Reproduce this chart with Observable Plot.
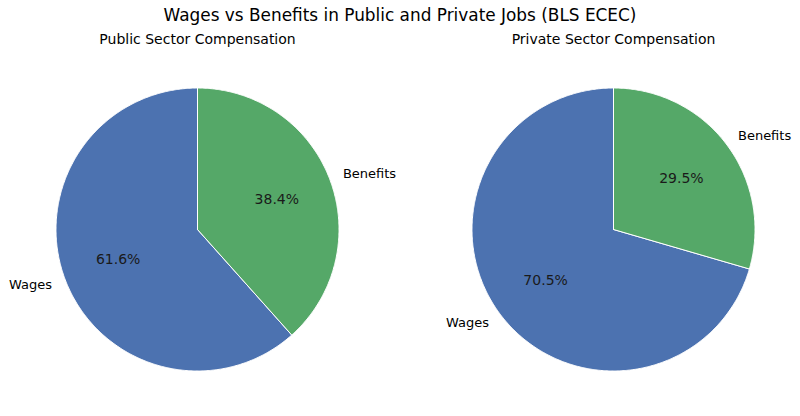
<!DOCTYPE html>
<html>
<head>
<meta charset="utf-8">
<script src="https://cdn.jsdelivr.net/npm/d3@7"></script>
<script src="https://cdn.jsdelivr.net/npm/@observablehq/plot@0.6"></script>
<style>
  html, body { margin: 0; padding: 0; background: white; }
  body { width: 800px; font-family: "DejaVu Sans", sans-serif; }
  #title { height: 30px; line-height: 30px; text-align: center; font-size: 16.9px; color: #000; }
</style>
</head>
<body>
<div id="title">Wages vs Benefits in Public and Private Jobs (BLS ECEC)</div>
<div id="chart"></div>
<script>
// ---- data ----
const sectors = ["Public Sector Compensation", "Private Sector Compensation"];
const components = ["Wages", "Benefits"];
const publicShares = [61.6, 38.4];
const privateShares = [70.5, 29.5];
const colors = ["#4c72b0", "#55a868"];

// ---- layout constants ----
const R = 141.5;          // pie radius in px
const svgH = 386;
const centerY = 199;      // pie centre in svg px
const facetW = 374;
const startAngle = 90;    // degrees, counter-clockwise like matplotlib

const shares = [publicShares, privateShares];
const points = [], labels = [], pcts = [];
sectors.forEach((sector, si) => {
  const vals = shares[si];
  const total = d3.sum(vals);
  let a0 = startAngle;
  vals.forEach((v, ci) => {
    const sweep = v / total * 360;
    const a1 = a0 + sweep;
    const id = sector + "|" + components[ci];
    points.push({sector, component: components[ci], id, x: 0, y: 0});
    const n = Math.max(2, Math.ceil(sweep * 2));
    for (let k = 0; k <= n; k++) {
      const t = (a0 + sweep * k / n) * Math.PI / 180;
      points.push({sector, component: components[ci], id, x: Math.cos(t), y: Math.sin(t)});
    }
    points.push({sector, component: components[ci], id, x: 0, y: 0});
    const mid = (a0 + sweep / 2) * Math.PI / 180;
    labels.push({sector, text: components[ci], x: 1.1 * Math.cos(mid), y: 1.1 * Math.sin(mid)});
    pcts.push({sector, text: (v / total * 100).toFixed(1) + "%", x: 0.6 * Math.cos(mid), y: 0.6 * Math.sin(mid)});
    a0 = a1;
  });
});

const half = facetW / 2 / R;
const chart = Plot.plot({
  width: 800,
  height: svgH,
  marginTop: 0, marginBottom: 0, marginLeft: 10, marginRight: 0,
  style: {fontFamily: "DejaVu Sans, sans-serif", background: "white", color: "black"},
  fx: {domain: sectors, paddingInner: 0.101, paddingOuter: 0, axis: null},
  x: {domain: [-half, half], axis: null},
  y: {domain: [-(svgH - centerY) / R, centerY / R], axis: null},
  color: {domain: components, range: colors},
  marks: [
    Plot.line(points, {fx: "sector", x: "x", y: "y", z: "id", fill: "component", stroke: "white", strokeWidth: 1, curve: "linear"}),
    Plot.text(labels.filter(d => d.x >= 0), {fx: "sector", x: "x", y: "y", text: "text", textAnchor: "start", fontSize: 13, fill: "black"}),
    Plot.text(labels.filter(d => d.x < 0), {fx: "sector", x: "x", y: "y", text: "text", textAnchor: "end", fontSize: 13, fill: "black"}),
    Plot.text(pcts, {fx: "sector", x: "x", y: "y", text: "text", fontSize: 14, fill: "#1a1a1a"}),
    Plot.text(sectors, {fx: d => d, text: d => d, frameAnchor: "top", lineAnchor: "top", dy: 4, fontSize: 14, fill: "black"})
  ]
});
document.getElementById("chart").appendChild(chart);
</script>
</body>
</html>
